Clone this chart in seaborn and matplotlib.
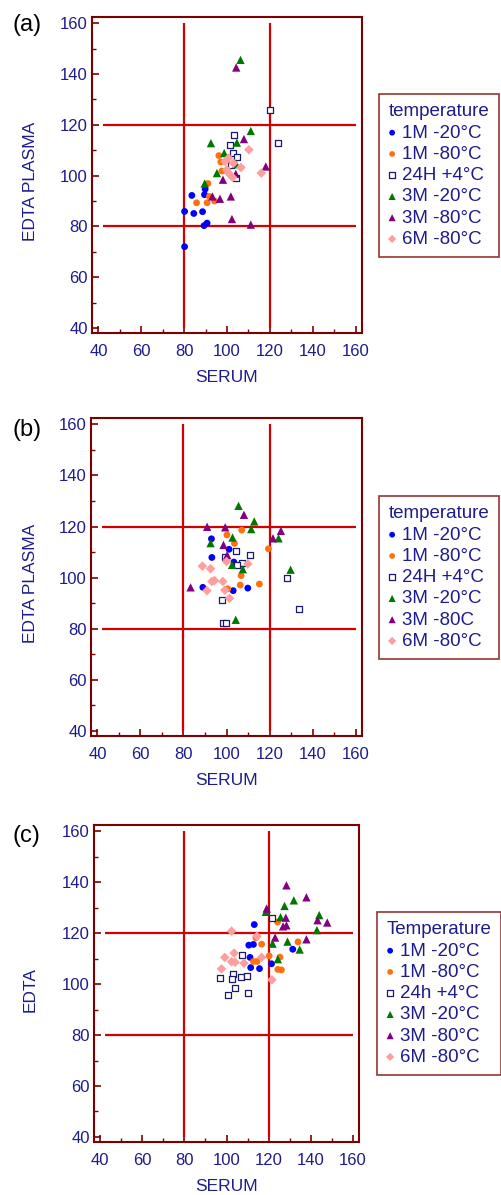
import numpy as np
import pandas as pd
import matplotlib
matplotlib.use("Agg")
import matplotlib.pyplot as plt
from matplotlib.ticker import MultipleLocator
import seaborn as sns

NAVY = "#1c1c8c"
DARKRED = "#7b0000"
LINERED = "#d40000"

# group styles (marker, face, edge, size)
GROUPS = ["1M -20", "1M -80", "24H +4", "3M -20", "3M -80", "6M -80"]
STYLE = {
    "1M -20": ("o", "#0000ff", "none", 24),
    "1M -80": ("o", "#ff7010", "none", 24),
    "24H +4": ("s", "white", "#1a1a6e", 22),
    "3M -20": ("^", "#007800", "none", 36),
    "3M -80": ("^", "#800080", "none", 36),
    "6M -80": ("D", "#ff9e9e", "none", 24),
}

# ---- panel (a) : (serum, edta plasma)
a_1m20 = [(83.6, 92.2), (80.2, 85.9), (84.5, 85.1), (88.6, 85.8), (89.8, 94.7),
          (89.5, 92.5), (89.3, 80.3), (90.7, 81.3), (80.2, 72.0)]
a_1m80 = [(85.8, 89.3), (91.1, 96.9), (90.7, 89.3), (94.2, 90.0), (96.2, 107.9),
          (97.6, 101.8), (97.1, 105.4), (91.8, 91.8)]
a_24h4 = [(120.0, 125.9), (124.0, 112.8), (103.2, 116.1), (101.2, 112.1), (102.9, 109.0),
          (104.6, 107.3), (101.8, 104.3), (104.0, 98.9)]
a_3m20 = [(106.3, 145.6), (111.1, 117.6), (104.6, 113.0), (92.5, 112.8), (98.7, 108.9),
          (95.3, 101.0), (89.6, 96.9), (104.3, 104.5)]
a_3m80 = [(104.3, 142.6), (107.9, 114.4), (118.1, 103.6), (98.1, 98.4), (93.2, 91.8),
          (96.7, 90.9), (101.8, 91.8), (102.3, 82.9), (111.1, 80.7), (104.1, 100.7)]
a_6m80 = [(110.2, 110.2), (116.0, 101.0), (106.5, 103.2), (99.1, 105.6), (100.7, 106.9),
          (103.0, 104.9), (100.7, 101.0), (102.6, 99.3), (99.9, 102.3)]

# ---- panel (b)
b_1m20 = [(93.0, 115.2), (93.2, 107.9), (89.0, 96.2), (101.2, 111.1), (103.4, 106.1),
          (103.1, 94.9), (109.9, 95.9)]
b_1m80 = [(100.2, 116.7), (107.1, 118.6), (103.7, 113.4), (119.5, 111.3), (107.1, 104.8),
          (106.8, 100.8), (106.4, 97.1), (115.3, 97.5), (100.6, 95.6)]
b_24h4 = [(104.5, 110.5), (110.7, 108.7), (99.2, 107.9), (107.4, 105.7), (105.1, 104.8),
          (128.2, 99.9), (133.5, 87.7), (98.1, 91.2), (98.5, 82.2), (99.6, 82.2)]
b_3m20 = [(105.6, 128.1), (112.9, 122.0), (111.5, 119.0), (102.8, 115.7), (92.6, 113.5),
          (102.6, 105.0), (107.6, 103.3), (124.2, 115.4), (129.8, 103.1), (104.3, 83.5)]
b_3m80 = [(108.1, 124.6), (91.0, 119.9), (99.4, 119.7), (98.6, 112.8), (121.6, 115.4),
          (125.3, 118.3), (100.3, 108.8), (83.3, 96.2)]
b_6m80 = [(88.8, 104.5), (92.6, 103.5), (94.4, 98.9), (93.2, 98.5), (98.3, 98.5),
          (90.9, 94.9), (99.2, 95.1), (101.4, 91.9), (100.0, 106.3), (109.9, 105.4)]

# ---- panel (c)
c_1m20 = [(113.2, 123.4), (110.6, 115.3), (112.8, 115.6), (111.2, 110.5), (111.5, 106.5),
          (115.7, 106.1), (121.4, 108.0), (131.5, 113.7)]
c_1m80 = [(124.3, 124.4), (114.0, 118.2), (116.7, 115.7), (120.3, 111.1), (112.8, 108.9),
          (114.5, 108.9), (125.4, 110.6), (124.4, 105.8), (126.1, 105.6), (134.0, 116.6)]
c_24h4 = [(121.4, 126.0), (107.6, 111.6), (96.9, 102.6), (103.1, 103.8), (102.5, 102.0),
          (106.9, 102.7), (109.8, 103.3), (103.9, 98.6), (100.9, 95.9), (110.4, 96.5)]
c_3m20 = [(118.7, 128.4), (127.6, 130.7), (132.0, 132.9), (125.7, 126.3), (144.1, 127.1),
          (143.0, 121.2), (121.9, 115.9), (129.0, 116.7), (134.8, 113.6), (124.4, 109.8)]
c_3m80 = [(128.5, 138.8), (138.0, 134.1), (119.1, 129.7), (128.2, 126.1), (126.9, 122.7),
          (128.5, 123.1), (143.3, 125.1), (147.9, 124.2), (123.1, 118.3), (138.0, 117.6)]
c_6m80 = [(102.4, 120.8), (114.5, 118.8), (99.2, 110.5), (103.6, 112.2), (102.4, 108.8),
          (104.1, 108.6), (108.3, 108.2), (116.7, 110.5), (97.6, 106.0), (121.6, 101.7)]

labels_a = ["1M -20°C", "1M -80°C", "24H +4°C", "3M -20°C", "3M -80°C", "6M -80°C"]
labels_b = ["1M -20°C", "1M -80°C", "24H +4°C", "3M -20°C", "3M -80C", "6M -80°C"]
labels_c = ["1M -20°C", "1M -80°C", "24h +4°C", "3M -20°C", "3M -80°C", "6M -80°C"]

panels = [
    ("(a)", "EDTA PLASMA", "temperature", labels_a, [a_1m20, a_1m80, a_24h4, a_3m20, a_3m80, a_6m80]),
    ("(b)", "EDTA PLASMA", "temperature", labels_b, [b_1m20, b_1m80, b_24h4, b_3m20, b_3m80, b_6m80]),
    ("(c)", "EDTA", "Temperature", labels_c, [c_1m20, c_1m80, c_24h4, c_3m20, c_3m80, c_6m80]),
]

sns.set_style("white")
plt.rcParams["font.family"] = ["Liberation Sans", "DejaVu Sans"]

W, H = 501, 1195
fig = plt.figure(figsize=(W / 100, H / 100), dpi=100)

# axes boxes in pixels: left, top, right, bottom
boxes = [(92, 17, 362, 333), (91, 418, 362, 736), (94, 825, 359, 1142)]
legpos = [(379, 94), (379, 496), (377, 912)]
tagpos = [25, 430, 836]

for (tag, ylab, ltitle, labels, data), (l, t, r, b), (lx, ly), ty in zip(panels, boxes, legpos, tagpos):
    ax = fig.add_axes([l / W, 1 - b / H, (r - l) / W, (b - t) / H])
    frames = []
    for g, pts in zip(GROUPS, data):
        d = pd.DataFrame(pts, columns=["serum", "edta"])
        d["group"] = g
        frames.append(d)
    df = pd.concat(frames, ignore_index=True)

    # reference limits
    ax.vlines([80, 120], 40, 160, color=LINERED, lw=1.6, zorder=1)
    ax.hlines([80, 120], 42, 160, color=LINERED, lw=1.6, zorder=1)

    for g, lab in zip(GROUPS, labels):
        m, fc, ec, s = STYLE[g]
        sub = df[df["group"] == g]
        sns.scatterplot(data=sub, x="serum", y="edta", marker=m, s=s, color=fc,
                        edgecolor=ec, linewidth=0.9 if ec != "none" else 0,
                        label=lab, ax=ax, zorder=3)

    ax.set_xlim(37, 163)
    ax.set_ylim(38, 162.5)
    ax.xaxis.set_major_locator(MultipleLocator(20))
    ax.yaxis.set_major_locator(MultipleLocator(20))
    ax.xaxis.set_minor_locator(MultipleLocator(10))
    ax.yaxis.set_minor_locator(MultipleLocator(10))
    ax.tick_params(which="both", direction="in", color=DARKRED, top=False, right=False,
                   bottom=True, left=True)
    ax.tick_params(which="major", length=5, width=1.2, labelsize=12, labelcolor=NAVY)
    ax.tick_params(axis="x", which="major", pad=8)
    ax.tick_params(axis="y", which="major", pad=3)
    ax.tick_params(which="minor", length=3, width=1.0)
    for sp in ax.spines.values():
        sp.set_color(DARKRED)
        sp.set_linewidth(1.5)
    hgt = b - t
    wid = r - l
    ax.set_xlabel("SERUM", color=NAVY, fontsize=12.5)
    ax.xaxis.set_label_coords(0.5, -37 / hgt)
    ax.set_ylabel(ylab, color=NAVY, fontsize=12.5)
    ax.yaxis.set_label_coords(-(l - 38) / wid, 0.48)

    fig.text(13 / W, 1 - ty / H, tag, fontsize=17, color="black", ha="left", va="center")

    leg = ax.legend(loc="upper left", bbox_to_anchor=(lx / W, 1 - ly / H),
                    bbox_transform=fig.transFigure, title=ltitle, fontsize=13.5,
                    title_fontsize=13.5, frameon=True, fancybox=False, markerscale=0.85,
                    handletextpad=0.35, labelspacing=0.22, borderpad=0.5,
                    handlelength=0.4, borderaxespad=0)
    leg.get_frame().set_edgecolor(DARKRED)
    leg.get_frame().set_linewidth(1.2)
    leg._legend_box.align = "left"
    leg.get_title().set_color(NAVY)
    for txt in leg.get_texts():
        txt.set_color(NAVY)

fig.savefig("out.png", dpi=100)
